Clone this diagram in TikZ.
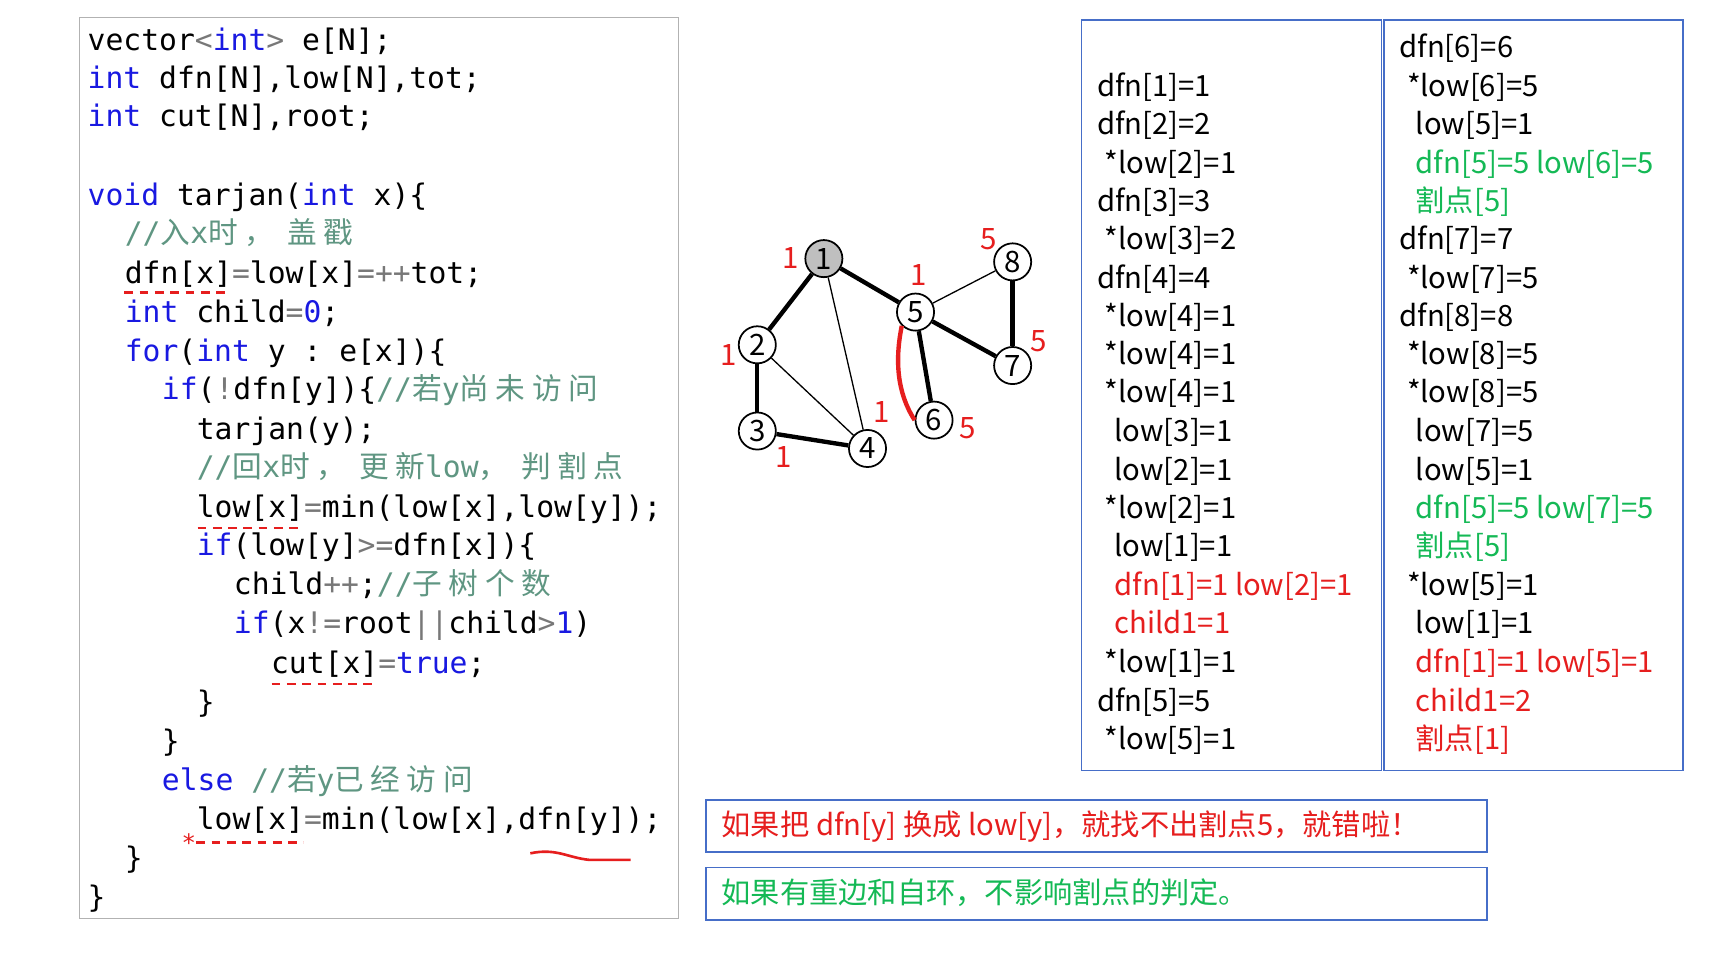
\documentclass[tikz,border=0pt]{standalone}
\usepackage{fontspec}
\setmonofont{DejaVu Sans Mono}
\newfontfamily\cjk{Noto Sans CJK SC}
\newfontfamily\cjkw{Noto Sans CJK SC}[LetterSpace=22]
\definecolor{kwc}{RGB}{25,25,225}
\definecolor{cmc}{RGB}{95,150,130}
\definecolor{opc}{RGB}{120,120,120}
\definecolor{rd}{RGB}{230,30,30}
\definecolor{gn}{RGB}{20,185,85}
\definecolor{bl}{RGB}{70,110,200}
\newcommand\kw[1]{\textcolor{kwc}{#1}}
\newcommand\cm[1]{\textcolor{cmc}{#1}}
\newcommand\op[1]{\textcolor{opc}{#1}}
\begin{document}
\begin{tikzpicture}[x=0.5pt,y=-0.5pt,
  code/.style={anchor=base west,inner sep=0pt,font=\ttfamily\fontsize{13.6}{16}\selectfont},
  rt/.style={anchor=base west,inner sep=0pt,font=\cjk\fontsize{13.4}{15}\selectfont},
  vx/.style={circle,draw,line width=0.8pt,minimum size=17pt,inner sep=0pt,font=\cjk\fontsize{13.5}{15}\selectfont},
  lab/.style={text=rd,inner sep=0pt,font=\cjk\fontsize{13.5}{15}\selectfont},
  thick edge/.style={line width=2pt},
  thin edge/.style={line width=0.6pt},
  ul/.style={rd,line width=1pt,dash pattern=on 4pt off 3pt},
  panel/.style={draw=bl,line width=0.8pt}]
\useasboundingbox (0,0) rectangle (1568,877);
\fill[white] (0,0) rectangle (1568,877);
% code box
\draw[gray!60,line width=0.6pt] (73,16) rectangle (622,842);
\node[code] (c1) at (80,46) {vector\op{<}\kw{int}\op{>} e[N];};
\node[code] (c2) at (80,81) {\kw{int} dfn[N],low[N],tot;};
\node[code] (c3) at (80,116) {\kw{int} cut[N],root;};
\node[code] (c5) at (80,188) {\kw{void} tarjan(\kw{int} x)\{};
\node[code] (c6) at (114,223) {\cm{//{\cjkw 入}x{\cjkw 时，\ 盖戳}}};
\node[code] (c7) at (114,260) {dfn[x]\op{=}low[x]\op{=++}tot;};
\node[code] (c8) at (114,296) {\kw{int} child\op{=}\kw{0};};
\node[code] (c9) at (114,331) {\kw{for}(\kw{int} y : e[x])\{};
\node[code] (c10) at (148,366) {\kw{if}(\op{!}dfn[y])\{\cm{//{\cjkw 若}y{\cjkw 尚未访问}}};
\node[code] (c11) at (180,403) {tarjan(y);};
\node[code] (c12) at (180,438) {\cm{//{\cjkw 回}x{\cjkw 时，\ 更新}low{\cjkw ，\ 判割点}}};
\node[code] (c13) at (180,474) {low[x]\op{=}min(low[x],low[y]);};
\node[code] (c14) at (180,509) {\kw{if}(low[y]\op{>=}dfn[x])\{};
\node[code] (c15) at (214,545) {child\op{++};\cm{//{\cjkw 子树个数}}};
\node[code] (c16) at (214,581) {\kw{if}(x\op{!=}root\op{||}child\op{>}\kw{1})};
\node[code] (c17) at (248,617) {cut[x]\op{=}\kw{true};};
\node[code] (c18) at (180,653) {\}};
\node[code] (c19) at (148,689) {\}};
\node[code] (c20) at (148,724) {\kw{else} \cm{//{\cjkw 若}y{\cjkw 已经访问}}};
\node[code] (c21) at (180,760) {low[x]\op{=}min(low[x],dfn[y]);};
\node[code] (c22) at (114,796) {\}};
\node[code] (c23) at (80,832) {\}};
% red marks
\draw[ul] (114,268) -- (208,268);
\draw[ul] (181,484) -- (275,484);
\draw[ul] (249,627) -- (341,627);
\draw[ul] (180,772) -- (278,772);
\node[text=rd,inner sep=0pt,font=\ttfamily\fontsize{11}{12}\selectfont] (star) at (173,772) {*};
\draw[rd,line width=1.2pt] (486,782) .. controls (510,777) and (520,786) .. (540,788) -- (578,788);
% graph
\node[vx,fill=gray!50] (n1) at (755,237) {1};
\node[vx] (n2) at (694,316) {2};
\node[vx] (n3) at (694,395) {3};
\node[vx] (n4) at (795,411) {4};
\node[vx] (n5) at (839,286) {5};
\node[vx] (n6) at (856,385) {6};
\node[vx] (n7) at (928,335) {7};
\node[vx] (n8) at (928,240) {8};
\draw[thick edge] (n1) -- (n2);
\draw[thick edge] (n2) -- (n3);
\draw[thick edge] (n3) -- (n4);
\draw[thick edge] (n1) -- (n5);
\draw[thick edge] (n5) -- (n6);
\draw[thick edge] (n5) -- (n7);
\draw[thick edge] (n8) -- (n7);
\draw[thin edge] (n2) -- (n4);
\draw[thin edge] (n1) -- (n4);
\draw[thin edge] (n5) -- (n8);
\draw[rd,line width=2pt] (n5.south west) .. controls (820,330) and (822,360) .. (n6.west);
\node[lab] (l1) at (725,236) {1};
\node[lab] (l2) at (668,325) {1};
\node[lab] (l3) at (718,419) {1};
\node[lab] (l4) at (808,378) {1};
\node[lab] (l5) at (842,252) {1};
\node[lab] (l8) at (906,219) {5};
\node[lab] (l7) at (952,313) {5};
\node[lab] (l6) at (887,392) {5};
% right panels
\draw[panel] (991,18) rectangle (1266,706);
\draw[panel] (1268,18) rectangle (1542,706);
\node[rt] (a1) at (1005,88) {dfn[1]=1};
\node[rt] (a2) at (1005,123) {dfn[2]=2};
\node[rt] (a3) at (1012,159) {*low[2]=1};
\node[rt] (a4) at (1005,194) {dfn[3]=3};
\node[rt] (a5) at (1012,229) {*low[3]=2};
\node[rt] (a6) at (1005,264) {dfn[4]=4};
\node[rt] (a7) at (1012,299) {*low[4]=1};
\node[rt] (a8) at (1012,334) {*low[4]=1};
\node[rt] (a9) at (1012,369) {*low[4]=1};
\node[rt] (a10) at (1021,405) {low[3]=1};
\node[rt] (a11) at (1021,440) {low[2]=1};
\node[rt] (a12) at (1012,475) {*low[2]=1};
\node[rt] (a13) at (1021,510) {low[1]=1};
\node[rt,text=rd] (a14) at (1021,546) {dfn[1]=1 low[2]=1};
\node[rt,text=rd] (a15) at (1021,581) {child1=1};
\node[rt] (a16) at (1012,616) {*low[1]=1};
\node[rt] (a17) at (1005,652) {dfn[5]=5};
\node[rt] (a18) at (1012,687) {*low[5]=1};
\node[rt] (b1) at (1282,53) {dfn[6]=6};
\node[rt] (b2) at (1289,88) {*low[6]=5};
\node[rt] (b3) at (1297,123) {low[5]=1};
\node[rt,text=gn] (b4) at (1297,159) {dfn[5]=5 low[6]=5};
\node[rt,text=gn] (b5) at (1297,194) {割点[5]};
\node[rt] (b6) at (1282,229) {dfn[7]=7};
\node[rt] (b7) at (1289,264) {*low[7]=5};
\node[rt] (b8) at (1282,299) {dfn[8]=8};
\node[rt] (b9) at (1289,334) {*low[8]=5};
\node[rt] (b10) at (1289,369) {*low[8]=5};
\node[rt] (b11) at (1297,405) {low[7]=5};
\node[rt] (b12) at (1297,440) {low[5]=1};
\node[rt,text=gn] (b13) at (1297,475) {dfn[5]=5 low[7]=5};
\node[rt,text=gn] (b14) at (1297,510) {割点[5]};
\node[rt] (b15) at (1289,546) {*low[5]=1};
\node[rt] (b16) at (1297,581) {low[1]=1};
\node[rt,text=rd] (b17) at (1297,616) {dfn[1]=1 low[5]=1};
\node[rt,text=rd] (b18) at (1297,652) {child1=2};
\node[rt,text=rd] (b19) at (1297,687) {割点[1]};
% bottom notes
\draw[panel] (647,733) rectangle (1363,781);
\draw[panel] (647,795) rectangle (1363,843);
\node[rt,text=rd] (m1) at (661,766) {如果把 dfn[y] 换成 low[y]，就找不出割点5，就错啦！};
\node[rt,text=gn] (m2) at (661,828) {如果有重边和自环，不影响割点的判定。};
\end{tikzpicture}
\end{document}
